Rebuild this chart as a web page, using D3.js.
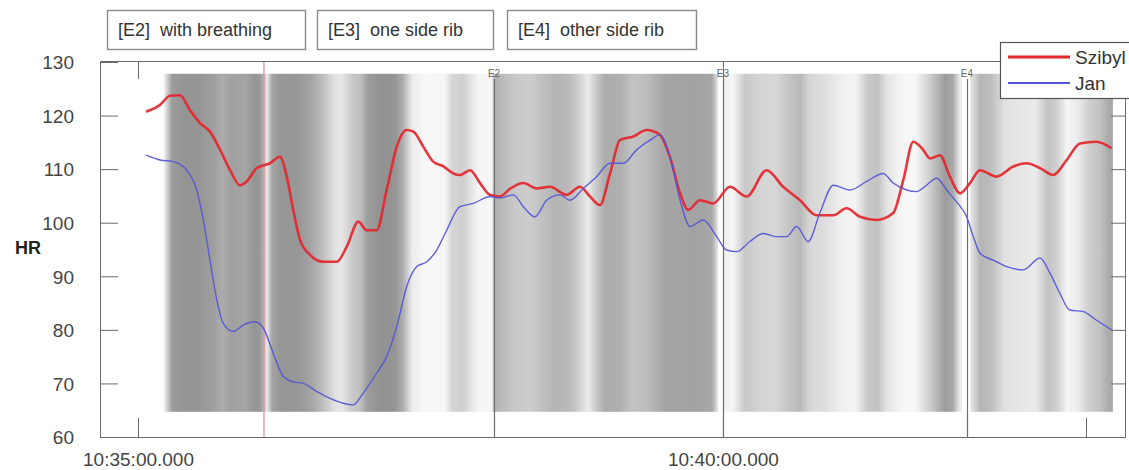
<!DOCTYPE html>
<html>
<head>
<meta charset="utf-8">
<script src="https://cdn.jsdelivr.net/npm/d3@7"></script>
<style>
  html, body { margin: 0; padding: 0; background: #fff; }
  svg { display: block; font-family: "Liberation Sans", Arial, sans-serif; }
</style>
</head>
<body>
<svg id="chart" width="1129" height="470"></svg>
<script>
// ---- data (time in seconds after 10:35:00) ----
const szibylT = [4.1,11.3,16.4,21.5,26.7,31.8,36.9,42.1,47.2,52.3,55.7,60.9,67.7,72.8,76.3,79.6,83.1,88.2,95.0,101.9,107.0,113.0,117.3,122.4,127.5,132.7,137.8,141.2,146.3,151.4,156.6,161.7,165.1,170.3,175.4,180.5,185.6,191.0,197.6,204.5,211.3,219.8,226.7,231.8,236.9,242.1,247.2,254.0,260.9,267.7,272.8,278.0,282.2,288.2,295.0,303.6,312.2,322.4,330.9,339.5,348.0,356.6,363.4,370.3,378.8,387.3,392.5,397.6,402.7,406.2,411.3,416.4,421.5,426.7,431.8,440.3,448.9,455.7,462.6,469.4,476.3,483.1,491.6,499.3];
const szibylHR = [120.7,122.0,123.7,123.8,121.0,118.6,117.0,113.6,109.8,107.0,107.7,110.2,111.1,112.3,108.6,102.4,96.8,94.0,92.7,92.7,95.5,100.2,98.6,98.6,106.1,114.2,117.3,117.0,114.2,111.4,110.5,109.2,108.9,109.8,107.4,105.2,104.9,106.4,107.4,106.4,106.7,105.2,106.7,104.9,103.3,109.2,115.4,116.1,117.3,116.4,112.3,105.5,102.4,104.2,103.6,106.7,104.9,109.8,106.7,104.2,101.4,101.4,102.7,101.1,100.5,101.8,108.0,115.1,113.6,112.0,112.6,108.6,105.5,107.4,109.8,108.6,110.5,111.1,110.2,108.9,111.7,114.8,115.1,113.9];

const janT = [4.1,11.3,18.1,25.0,30.1,33.5,36.9,40.4,43.7,48.9,54.0,60.0,64.3,69.4,74.5,79.6,84.8,91.6,98.5,105.3,110.4,115.5,122.4,127.5,132.7,137.8,142.9,148.1,153.2,158.3,165.1,172.0,180.5,185.6,192.5,197.6,203.6,209.6,216.4,221.5,228.4,235.2,242.1,248.9,255.7,262.6,267.7,272.8,278.0,283.1,289.9,296.8,301.9,307.0,313.8,320.7,327.5,332.6,337.8,343.7,349.7,356.6,365.1,373.7,382.2,387.3,394.2,399.3,404.4,409.6,414.7,419.8,425.0,428.4,431.8,438.6,445.5,454.0,462.6,467.7,472.8,477.9,484.8,491.6,499.3];
const janHR = [112.6,111.7,111.4,109.8,106.1,100.5,93.0,85.6,81.2,79.7,80.9,81.5,80.3,75.6,71.3,70.3,70.0,68.5,67.2,66.3,66.0,68.2,71.9,75.0,80.6,88.1,91.8,92.7,94.9,98.6,103.0,103.6,104.9,104.6,105.2,103.0,101.1,104.2,105.2,104.2,106.4,108.6,111.1,111.1,113.6,115.4,116.4,112.3,104.2,99.3,100.5,97.4,94.9,94.6,96.5,98.0,97.4,97.4,99.3,96.5,101.8,107.0,106.1,107.7,109.2,107.4,106.1,105.8,107.0,108.3,106.1,103.9,101.1,97.4,94.3,93.0,91.8,91.2,93.4,90.6,86.8,83.7,83.4,81.8,80.0];

// background intensity band (gray level 0-255 over time)
const bandT = [12.8,17.4,24.1,31.8,38.5,43.1,48.2,54.9,60.0,63.1,66.2,68.7,72.8,83.1,89.2,94.4,101.0,104.6,109.7,113.8,117.9,124.1,131.8,135.9,140.5,147.2,157.4,161.0,166.2,170.3,174.4,181.5,182.6,187.2,193.3,201.0,207.2,213.8,221.5,225.6,230.8,234.9,239.5,247.2,253.3,260.0,265.1,270.3,288.2,294.4,296.9,300.0,305.1,311.3,319.0,326.7,334.4,339.5,344.6,352.3,360.0,367.7,374.4,379.5,384.1,391.3,398.5,403.6,408.7,413.8,417.9,421.5,426.7,431.8,436.9,444.6,452.3,460.0,466.7,471.8,476.4,482.1,488.2,493.3,497.4,500.0];
const bandGray = [255,156,148,150,158,172,160,165,148,156,235,165,150,152,165,188,225,230,202,192,156,146,148,174,235,248,245,215,205,225,245,245,178,187,200,205,192,180,187,205,235,202,172,174,195,190,177,165,163,168,220,240,245,200,212,215,195,185,215,222,238,245,200,195,228,245,248,220,190,156,168,235,235,182,187,225,230,235,195,210,245,235,205,195,172,168];
const bandSegStart = [12.8, 182.6, 300.0, 426.7];
const bandSegEnd = [182.6, 297.4, 422.6, 500.0];
const bandHR = [64.7, 127.8];

const eventNames = ["E2", "E3", "E4"];
const eventT = [182.6, 300.0, 425.1];
const markerT = [64.6];

const boxLabels = ["[E2]  with breathing", "[E3]  one side rib", "[E4]  other side rib"];
const seriesNames = ["Szibyl", "Jan"];
const seriesColors = ["#e4262e", "#5454d6"];

const xDomainT = [-19.5, 506.2];
const xTickT = [0, 300, 486.2];
const xTickLabels = ["10:35:00.000", "10:40:00.000", ""];
const yTicks = [60, 70, 80, 90, 100, 110, 120, 130];
const yLabel = "HR";

// ---- chart ----
const base = new Date(2000, 0, 1, 10, 35, 0);
const toDate = s => new Date(base.getTime() + s * 1000);

const svg = d3.select("#chart");
const L = 100, R = 1125, T = 62, B = 437;
const x = d3.scaleTime().domain(xDomainT.map(toDate)).range([L, R]);
const y = d3.scaleLinear().domain([60, 130]).range([B, T]);

// gradient for background band
const defs = svg.append("defs");
const gx1 = x(toDate(bandT[0])), gx2 = x(toDate(bandT[bandT.length - 1]));
const grad = defs.append("linearGradient").attr("id", "band")
  .attr("gradientUnits", "userSpaceOnUse")
  .attr("x1", gx1).attr("x2", gx2).attr("y1", 0).attr("y2", 0);
grad.selectAll("stop").data(bandT).join("stop")
  .attr("offset", (t) => (x(toDate(t)) - gx1) / (gx2 - gx1))
  .attr("stop-color", (t, i) => d3.rgb(bandGray[i], bandGray[i], bandGray[i]).formatHex());

svg.append("g").selectAll("rect").data(bandSegStart).join("rect")
  .attr("x", (s) => x(toDate(s)))
  .attr("width", (s, i) => x(toDate(bandSegEnd[i])) - x(toDate(s)))
  .attr("y", y(bandHR[1]))
  .attr("height", y(bandHR[0]) - y(bandHR[1]))
  .attr("fill", "url(#band)");

// event lines
const ev = svg.append("g");
ev.selectAll("line").data(eventT).join("line")
  .attr("x1", t => Math.round(x(toDate(t))) + 0.5).attr("x2", t => Math.round(x(toDate(t))) + 0.5)
  .attr("y1", 79).attr("y2", B)
  .attr("stroke", "#6e6e6e").attr("stroke-width", 1.2);
ev.selectAll("text").data(eventT).join("text")
  .attr("x", t => x(toDate(t))).attr("y", 77)
  .attr("text-anchor", "middle").attr("font-size", 10).attr("fill", "#666")
  .text((t, i) => eventNames[i]);

// marker line
svg.append("g").selectAll("line").data(markerT).join("line")
  .attr("x1", t => x(toDate(t))).attr("x2", t => x(toDate(t)))
  .attr("y1", T - 1).attr("y2", B)
  .attr("stroke", "#e08a8a").attr("stroke-width", 1.2);

// series lines
const line = d3.line().curve(d3.curveMonotoneX);
const series = [[szibylT, szibylHR], [janT, janHR]];
const widths = [2.6, 1.4];
series.forEach(([ts, vs], si) => {
  const pts = ts.map((t, i) => [x(toDate(t)), y(vs[i])]);
  svg.append("path").attr("d", line(pts)).attr("fill", "none")
    .attr("stroke", seriesColors[si]).attr("stroke-width", widths[si])
    .attr("stroke-linejoin", "round").attr("opacity", 0.92);
});

// axes frame
const axisColor = "#6a6a6a";
const yAxisL = d3.axisLeft(y).tickValues(yTicks).tickSize(-18).tickPadding(26).tickFormat(d3.format("d"));
const gyl = svg.append("g").attr("transform", `translate(${L},0)`).call(yAxisL);
gyl.select(".domain").attr("stroke", axisColor);
gyl.selectAll(".tick line").attr("stroke", axisColor);
gyl.selectAll(".tick text").attr("font-size", 19).attr("fill", "#444")
  .attr("font-family", "Liberation Sans, Arial, sans-serif").attr("dy", "0.36em");

const yAxisR = d3.axisRight(y).tickValues(yTicks).tickSize(-14).tickFormat("");
const gyr = svg.append("g").attr("transform", `translate(${R},0)`).call(yAxisR);
gyr.select(".domain").attr("stroke", axisColor);
gyr.selectAll(".tick line").attr("stroke", axisColor);

const xAxisB = d3.axisBottom(x).tickValues(xTickT.map(toDate)).tickSize(-19).tickPadding(25)
  .tickFormat((d, i) => xTickLabels[i]);
const gxb = svg.append("g").attr("transform", `translate(0,${B})`).call(xAxisB);
gxb.select(".domain").attr("stroke", axisColor);
gxb.selectAll(".tick line").attr("stroke", axisColor);
gxb.selectAll(".tick text").attr("font-size", 19).attr("fill", "#444")
  .attr("font-family", "Liberation Sans, Arial, sans-serif").attr("dy", "0.2em");

const xAxisT = d3.axisTop(x).tickValues(xTickT.map(toDate)).tickSize(-18).tickFormat("");
const gxt = svg.append("g").attr("transform", `translate(0,${T - 1})`).call(xAxisT);
gxt.select(".domain").attr("stroke", axisColor);
gxt.selectAll(".tick line").attr("stroke", axisColor);

// y label
svg.append("text").attr("x", 28).attr("y", 254).attr("text-anchor", "middle")
  .attr("font-size", 18).attr("font-weight", "bold").attr("fill", "#222").text(yLabel);

// top annotation boxes
const boxX = [107, 317, 507], boxW = [198, 176, 189];
const bx = svg.append("g");
bx.selectAll("rect").data(boxLabels).join("rect")
  .attr("x", (d, i) => boxX[i] + 0.5).attr("y", 10.5)
  .attr("width", (d, i) => boxW[i]).attr("height", 39)
  .attr("fill", "#fff").attr("stroke", "#8a8a8a").attr("stroke-width", 1.4);
bx.selectAll("text").data(boxLabels).join("text")
  .attr("x", (d, i) => boxX[i] + 11).attr("y", 36)
  .attr("font-size", 18).attr("fill", "#333")
  .attr("xml:space", "preserve").style("white-space", "pre")
  .text(d => d);

// legend
const lg = svg.append("g");
lg.append("rect").attr("x", 1000.5).attr("y", 42.5).attr("width", 140).attr("height", 56)
  .attr("fill", "#fff").attr("stroke", "#555").attr("stroke-width", 1.2);
seriesNames.forEach((n, i) => {
  const yy = 57 + i * 26;
  lg.append("line").attr("x1", 1008).attr("x2", 1070).attr("y1", yy).attr("y2", yy)
    .attr("stroke", seriesColors[i]).attr("stroke-width", widths[i] + 0.4);
  lg.append("text").attr("x", 1075).attr("y", yy + 7).attr("font-size", 19).attr("fill", "#333").text(n);
});
</script>
</body>
</html>
